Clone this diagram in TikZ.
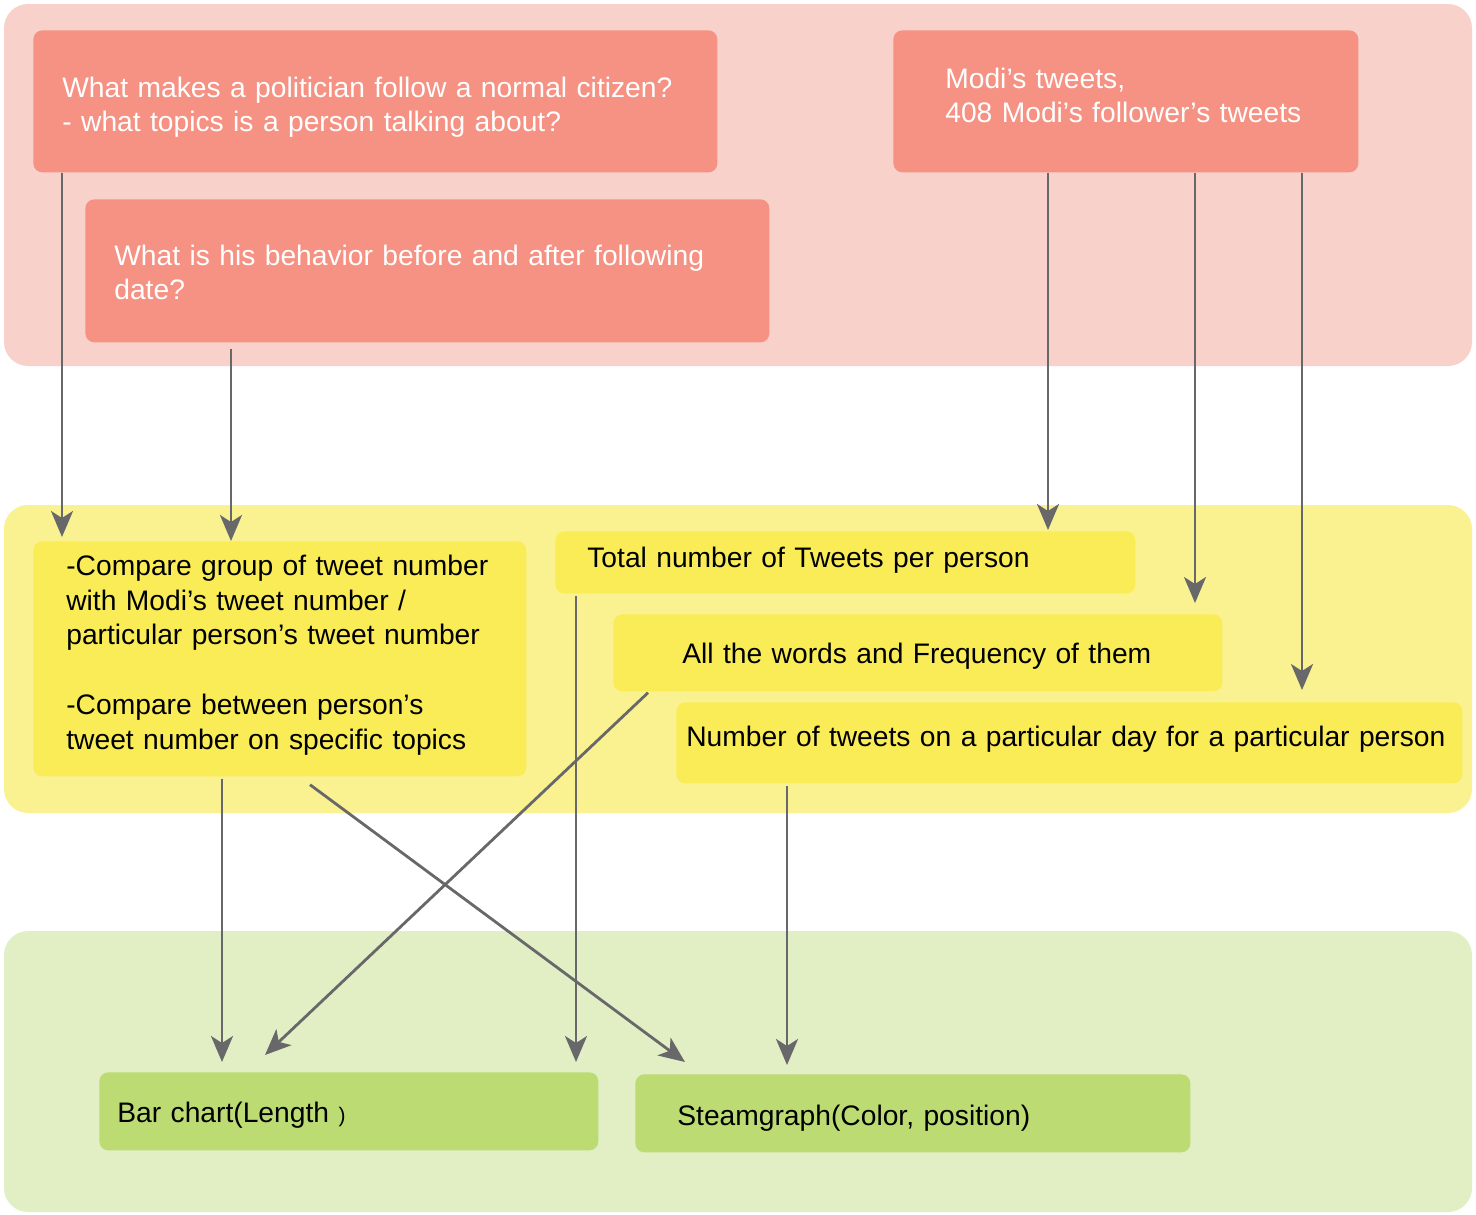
\documentclass[tikz,border=0pt]{standalone}
\usepackage{fontspec}
\setmainfont{Liberation Sans}
\usetikzlibrary{arrows.meta,calc}
\newdimen\pu \pu=0.02cm
\newcommand{\lns}[1]{\begin{tabular}[t]{@{}l@{}}#1\end{tabular}}
\definecolor{redband}{HTML}{F9D1CB}
\definecolor{redbox}{HTML}{F59283}
\definecolor{yelband}{HTML}{FAF291}
\definecolor{yelbox}{HTML}{F9EC56}
\definecolor{grnband}{HTML}{E2EFC5}
\definecolor{grnbox}{HTML}{BCDB72}
\definecolor{arrgray}{HTML}{68686A}
\tikzset{
  band/.style={rounded corners=0.48cm},
  boxbase/.style={rounded corners=0.18cm, anchor=north west, inner ysep=0pt, align=left,
    font=\fontsize{16.06}{19.6}\selectfont},
  redb/.style={boxbase, fill=redbox, text=white},
  yelb/.style={boxbase, fill=yelbox, text=black},
  grnb/.style={boxbase, fill=grnbox, text=black},
  arr/.style={draw=arrgray, line width=1.6pt, -{Stealth[length=0.52cm, width=0.44cm, inset=0.14cm]}}
}
\begin{document}
\begin{tikzpicture}[x=0.02cm, y=-0.02cm]
\useasboundingbox (0,0) rectangle (1476,1214);
% bands
\fill[redband, band] (4,4) rectangle (1472,366);
\fill[yelband, band] (4,505) rectangle (1472,813);
\fill[grnband, band] (4,931) rectangle (1472,1212);
% red boxes
\node[redb, inner xsep=29\pu, text width=626\pu, text height=67\pu, text depth=75\pu] (b1) at (33,30)
  {\lns{What makes a politician follow a normal citizen?\\- what topics is a person talking about?}};
\node[redb, inner xsep=29\pu, text width=626\pu, text height=66\pu, text depth=77\pu] (b2) at (85,199)
  {\lns{What is his behavior before and after following\\date?}};
\node[redb, inner xsep=52\pu, text width=361\pu, text height=58\pu, text depth=84\pu] (b3) at (893,30)
  {\lns{Modi’s tweets,\\408 Modi’s follower’s tweets}};
% yellow boxes
\node[yelb, inner xsep=33\pu, text width=427\pu, text height=34\pu, text depth=201\pu] (y1) at (33,541)
  {\renewcommand{\arraystretch}{1.01}\lns{-Compare group of tweet number\\with Modi’s tweet number /\\particular person’s tweet number\\ \\-Compare between person’s\\tweet number on specific topics}};
\node[yelb, inner xsep=32\pu, text width=516\pu, text height=36\pu, text depth=26\pu] (y2) at (555,531)
  {\lns{Total number of Tweets per person}};
\node[yelb, inner xsep=69\pu, text width=471\pu, text height=49\pu, text depth=28\pu] (y3) at (613,614)
  {\lns{All the words and Frequency of them}};
\node[yelb, inner xsep=10\pu, text width=766\pu, text height=44\pu, text depth=37\pu] (y4) at (676,702)
  {\lns{Number of tweets on a particular day for a particular person}};
% green boxes
\node[grnb, inner xsep=18\pu, text width=463\pu, text height=50\pu, text depth=28\pu] (g1) at (99,1072)
  {\lns{Bar chart(Length {\fontsize{12}{14}\selectfont )}}};
\node[grnb, inner xsep=42\pu, text width=471\pu, text height=51\pu, text depth=27\pu] (g2) at (635,1074)
  {\lns{Steamgraph(Color, position)}};
% arrows top -> middle
\draw[arr] ([xshift=29\pu]b1.south west) -- ([xshift=29\pu, yshift=4\pu]y1.north west);
\draw[arr] ([xshift=146\pu, yshift=-6\pu]b2.south west) -- ([xshift=198\pu]y1.north west);
\draw[arr] ([xshift=155\pu]b3.south west) -- ([xshift=155\pu, yshift=1\pu]b3.south west |- y2.north);
\draw[arr] ([xshift=302\pu]b3.south west) -- ([xshift=302\pu, yshift=11\pu]b3.south west |- y3.north);
\draw[arr] ([xshift=409\pu]b3.south west) -- ([xshift=409\pu, yshift=12\pu]b3.south west |- y4.north);
% arrows middle -> bottom
\draw[arr] ([xshift=189\pu, yshift=-2\pu]y1.south west) -- ([xshift=123\pu, yshift=10\pu]g1.north west);
\draw[arr] ([xshift=277\pu, yshift=-8\pu]y1.south west) -- ([xshift=50\pu, yshift=12\pu]g2.north west);
\draw[arr] ([xshift=35\pu, yshift=-1\pu]y3.south west) -- ([xshift=166\pu, yshift=17\pu]g1.north west);
\draw[arr] ([xshift=21\pu, yshift=-2\pu]y2.south west) -- ([xshift=477\pu, yshift=10\pu]g1.north west);
\draw[arr] ([xshift=111\pu, yshift=-2\pu]y4.south west) -- ([xshift=152\pu, yshift=9\pu]g2.north west);
\end{tikzpicture}
\end{document}
